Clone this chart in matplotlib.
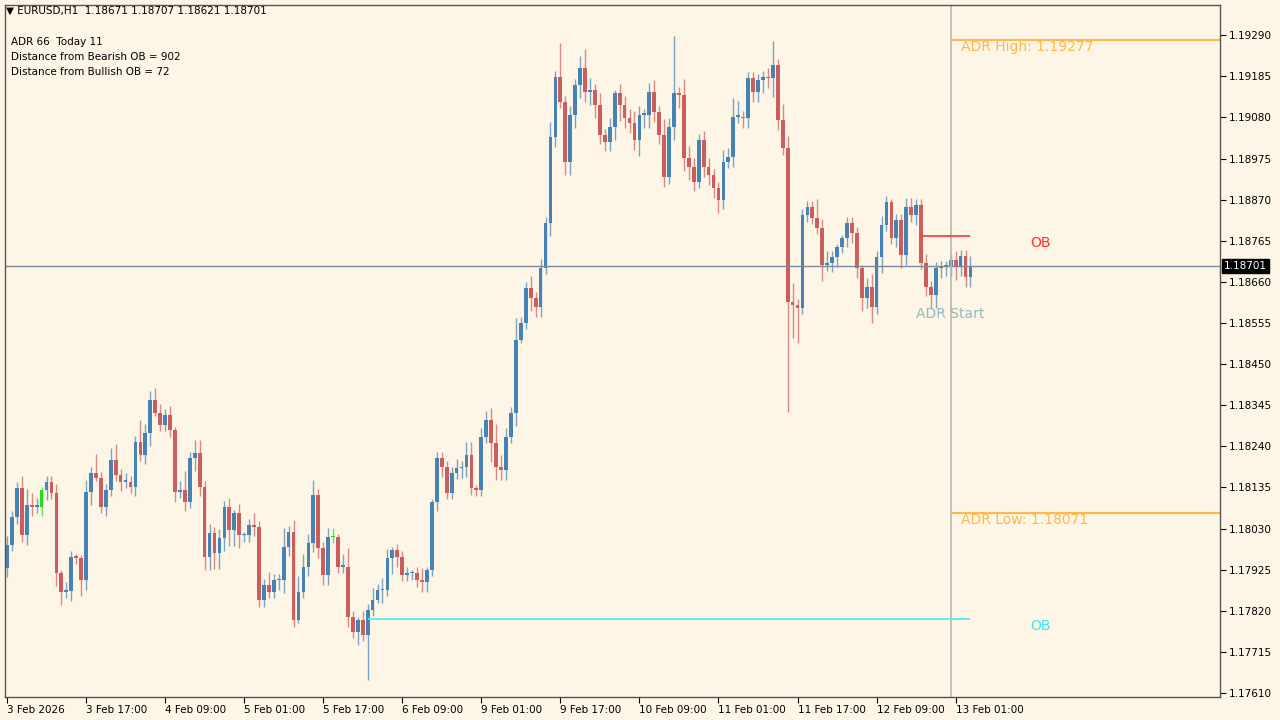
import matplotlib
matplotlib.use("Agg")
import matplotlib.pyplot as plt
from matplotlib.patches import Rectangle

# hourly closes EURUSD H1
closes = [
    1.17988, 1.18059, 1.18133, 1.18013, 1.18090, 1.18085, 1.18085, 1.18128, 1.18149, 1.18121,
    1.17916, 1.17868, 1.17870, 1.17957, 1.17955, 1.17898, 1.18123, 1.18172, 1.18159, 1.18085,
    1.18128, 1.18205, 1.18167, 1.18149, 1.18149, 1.18136, 1.18251, 1.18218, 1.18274, 1.18358,
    1.18325, 1.18294, 1.18320, 1.18281, 1.18123, 1.18128, 1.18098, 1.18210, 1.18223, 1.18136,
    1.17957, 1.18018, 1.17967, 1.18006, 1.18085, 1.18026, 1.18070, 1.18013, 1.18013, 1.18039,
    1.18034, 1.17847, 1.17886, 1.17868, 1.17898, 1.17898, 1.17983, 1.18021, 1.17796, 1.17868,
    1.17932, 1.17993, 1.18115, 1.17980, 1.17911, 1.18008, 1.18008, 1.17932, 1.17932, 1.17804,
    1.17766, 1.17796, 1.17758, 1.17822, 1.17847, 1.17873, 1.17873, 1.17955, 1.17975, 1.17957,
    1.17911, 1.17916, 1.17916, 1.17898, 1.17893, 1.17924, 1.18098, 1.18210,
    1.18187, 1.18121, 1.18172, 1.18184, 1.18187, 1.18218, 1.18133, 1.18128, 1.18264, 1.18307,
    1.18248, 1.18187, 1.18179, 1.18264, 1.18325, 1.18511, 1.18555, 1.18644, 1.18618, 1.18595,
    1.18695, 1.18810, 1.19029, 1.19183, 1.19119, 1.18966, 1.19086, 1.19162, 1.19206, 1.19144,
    1.19149, 1.19111, 1.19035, 1.19017, 1.19055, 1.19142, 1.19111, 1.19078, 1.19065, 1.19022,
    1.19086, 1.19086, 1.19144, 1.19093, 1.19035, 1.18927, 1.19055, 1.19142, 1.19137, 1.18976,
    1.18953, 1.18915, 1.19022, 1.18953, 1.18932, 1.18899, 1.18869, 1.18966, 1.18978, 1.19081,
    1.19081, 1.19078, 1.19180, 1.19144, 1.19175, 1.19183, 1.19180, 1.19213, 1.19073, 1.19001,
    1.18608, 1.18601, 1.18593, 1.18830, 1.18851, 1.18823, 1.18797, 1.18703, 1.18708, 1.18723,
    1.18749, 1.18772, 1.18810, 1.18784, 1.18695, 1.18618, 1.18647, 1.18595, 1.18723, 1.18805,
    1.18864, 1.18772, 1.18818, 1.18728, 1.18851, 1.18830, 1.18856, 1.18708, 1.18647, 1.18626,
    1.18695, 1.18698, 1.18698, 1.18715, 1.18698, 1.18726, 1.18672, 1.18701,
]
first_open = 1.17930

# wick lengths in units of 0.8 pip (one digit per bar)
up_wick = ("3224543122" "3132114262" "2452322733" "4323136244" "2323231312"
           "4224226245" "4352233146" "2132424312" "2212411222" "2324413346"
           "4327224232" "5232324642" "4231333432" "3425342543" "2332243652"
           "2222332546" "2222634211" "2221342321" "2233223222" "22322321")
dn_wick = ("3222332332" "4423253412" "3223223234" "1222323243" "4455455422"
           "3222234321" "2333332223" "2422214253" "2222332332" "2233222264"
           "3324124332" "4324444344" "3334533354" "4333244443" "2333432323"
           "3334363256" "2222252332" "3334352522" "3432323443" "33433343")
# notable extremes: bar index -> (high, low)
extremes = {73: (None, 1.17643), 112: (1.19270, None), 135: (1.19287, None),
            155: (1.19275, None), 158: (None, 1.18327), 159: (None, 1.18516),
            160: (None, 1.18504)}
doji_green = [7, 66]

tick_bars = [0, 16, 32, 48, 64, 80, 96, 112, 128, 144, 160, 176, 192]
tick_labels = ["3 Feb 2026", "3 Feb 17:00", "4 Feb 09:00", "5 Feb 01:00", "5 Feb 17:00",
               "6 Feb 09:00", "9 Feb 01:00", "9 Feb 17:00", "10 Feb 09:00", "11 Feb 01:00",
               "11 Feb 17:00", "12 Feb 09:00", "13 Feb 01:00"]
price_ticks = [1.19290, 1.19185, 1.19080, 1.18975, 1.18870, 1.18765, 1.18660, 1.18555,
               1.18450, 1.18345, 1.18240, 1.18135, 1.18030, 1.17925, 1.17820, 1.17715, 1.17610]

adr_high = 1.19277
adr_low = 1.18071
ob_bear = 1.18777
ob_bull = 1.17799
last_price = 1.18701

bg = "#fdf5e6"
blue = "#4682b4"
red = "#cd5c5c"

fig = plt.figure(figsize=(12.8, 7.2), dpi=100, facecolor=bg)
ax = fig.add_axes([5 / 1280, 23 / 720, 1215 / 1280, 692 / 720])
ax.set_facecolor(bg)
ax.set_xlim(-0.4, 245.5)
ax.set_ylim(1.17600, 1.19367)

prev = first_open
for i, c in enumerate(closes):
    o = prev
    hi = max(o, c) + int(up_wick[i]) * 0.00008
    lo = min(o, c) - int(dn_wick[i]) * 0.00008
    if i in extremes:
        h2, l2 = extremes[i]
        hi = h2 if h2 else hi
        lo = l2 if l2 else lo
    if i in doji_green:
        col = "#22dd22"
    else:
        col = blue if c >= o else red
    ax.vlines(i, lo, hi, color=col, lw=1, alpha=0.7)
    h = max(abs(c - o), 0.00004)
    ax.add_patch(Rectangle((i - 0.38, min(o, c)), 0.76, h, color=col, lw=0))
    prev = c

# lines
ax.axhline(last_price, color="#7a8a9a", lw=1)
ax.axvline(191, color="#b8b8b8", lw=1.2)
ax.hlines(adr_high, 191, 245.5, color="#ffb84d", lw=1.5)
ax.hlines(adr_low, 191, 245.5, color="#ffb84d", lw=1.5)
ax.hlines(ob_bear, 184.5, 195, color="#ff4040", lw=1.3)
ax.hlines(ob_bull, 73, 195, color="#55eeee", lw=1.3)

ax.text(193, adr_high - 0.00028, "ADR High: 1.19277", color="#ffb84d", fontsize=10)
ax.text(193, adr_low - 0.00028, "ADR Low: 1.18071", color="#ffb84d", fontsize=10)
ax.text(207, ob_bear - 0.00027, "OB", color="#ff3030", fontsize=10)
ax.text(207, ob_bull - 0.00028, "OB", color="#33eeee", fontsize=10)
ax.text(184, 1.18567, "ADR Start", color="#8fbcbc", fontsize=10)

# info text
fig.text(11 / 1280, 1 - 42 / 720, "ADR 66  Today 11", fontsize=7.5, va="center")
fig.text(11 / 1280, 1 - 57 / 720, "Distance from Bearish OB = 902", fontsize=7.5, va="center")
fig.text(11 / 1280, 1 - 72 / 720, "Distance from Bullish OB = 72", fontsize=7.5, va="center")
fig.text(6 / 1280, 1 - 11 / 720, "\u25bc EURUSD,H1  1.18671 1.18707 1.18621 1.18701",
         fontsize=7.5, va="center")

# axes styling
ax.yaxis.tick_right()
ax.set_yticks(price_ticks)
ax.set_yticklabels(["%.5f" % p for p in price_ticks], fontsize=7.5)
ax.set_xticks(tick_bars)
ax.set_xticklabels(tick_labels, fontsize=7.5, ha="left")
ax.tick_params(axis="both", length=4, width=0.8, colors="black", pad=2)
for s in ax.spines.values():
    s.set_color("#555555")
    s.set_linewidth(1)

ax.text(1.003, last_price, "1.18701", transform=ax.get_yaxis_transform(), color="white",
        fontsize=7.5, va="center", ha="left",
        bbox=dict(facecolor="black", edgecolor="black", pad=1.5))

fig.savefig("out.png", dpi=100, facecolor=bg)
